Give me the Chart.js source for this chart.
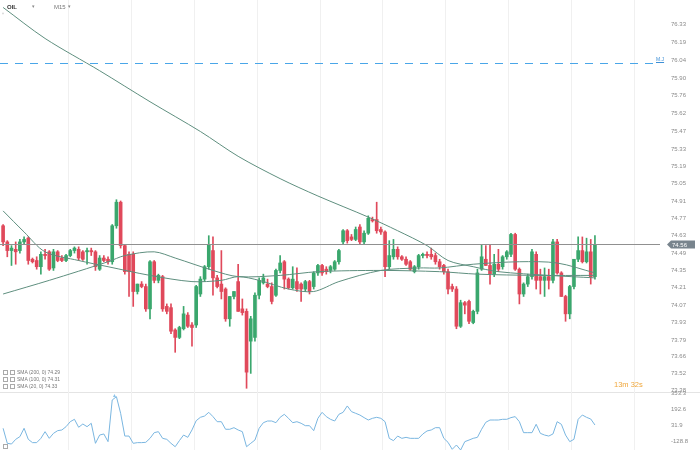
<!DOCTYPE html>
<html>
<head>
<meta charset="utf-8">
<script src="https://cdn.jsdelivr.net/npm/chart.js@4.4.0/dist/chart.umd.min.js"></script>
<style>
  html, body { margin: 0; padding: 0; background: #fff; }
  body { width: 700px; height: 450px; position: relative; overflow: hidden; font-family: "Liberation Sans", Arial, sans-serif; }
  #priceChart { position: absolute; left: 0; top: 0; }
  #cciChart { position: absolute; left: 0; top: 380px; }
  .t { position: absolute; white-space: nowrap; line-height: 1; }
  .sep { position: absolute; left: 0; top: 392px; width: 700px; height: 1px; background: #e4e4e4; }
  .ico { display: inline-block; width: 3px; height: 3px; border: 1px solid #aaa; margin-right: 2px; vertical-align: middle; }
</style>
</head>
<body>
<canvas id="priceChart" width="700" height="400"></canvas>
<div class="sep"></div>
<canvas id="cciChart" width="700" height="70"></canvas>

<div class="t" style="left:7px;top:4px;font-size:6px;font-weight:bold;color:#333;">OIL</div>
<div class="t" style="left:32px;top:4px;font-size:5px;color:#888;">▾</div>
<div class="t" style="left:54px;top:4px;font-size:6px;color:#777;">M15</div>
<div class="t" style="left:68px;top:4px;font-size:5px;color:#888;">▾</div>
<div class="t" style="left:2px;top:9px;font-size:5px;color:#999;">‸</div>

<div class="t" style="left:656px;top:57px;font-size:5px;color:#3d8fd6;text-decoration:underline;">M.J</div>

<div class="t" style="left:3px;top:370px;font-size:5px;color:#777;"><span class="ico"></span><span class="ico"></span>SMA (200, 0) 74.29</div>
<div class="t" style="left:3px;top:377px;font-size:5px;color:#777;"><span class="ico"></span><span class="ico"></span>SMA (100, 0) 74.31</div>
<div class="t" style="left:3px;top:384px;font-size:5px;color:#777;"><span class="ico"></span><span class="ico"></span>SMA (20, 0) 74.33</div>
<div class="t" style="left:112px;top:393px;font-size:5px;color:#8cc3ea;">▲</div>
<div class="t" style="left:614px;top:381px;font-size:7.5px;color:#f0a63a;">13m 32s</div>
<div class="t" style="left:3px;top:444px;font-size:5px;color:#999;"><span class="ico"></span></div>

<script>
// OIL M15 candles
const opens = [
  74.71, 74.58, 74.51, 74.52, 74.51, 74.58, 74.61, 74.44, 74.43, 74.38,
  74.48, 74.50, 74.37, 74.50, 74.45, 74.43, 74.47, 74.51, 74.52, 74.50,
  74.50, 74.51, 74.50, 74.36, 74.45, 74.44, 74.42, 74.71, 74.90, 74.55,
  74.48, 74.48, 74.18, 74.24, 74.22, 74.04, 74.42, 74.27, 74.30, 74.06,
  74.05, 73.87, 73.81, 73.88, 73.99, 73.91, 73.91, 74.16, 74.28, 74.38,
  74.51, 74.29, 74.24, 74.20, 73.96, 74.14, 74.26, 74.04, 74.02, 73.78,
  73.81, 74.15, 74.25, 74.24, 74.22, 74.15, 74.35, 74.42, 74.28, 74.21,
  74.26, 74.24, 74.20, 74.26, 74.22, 74.33, 74.39, 74.36, 74.35, 74.36,
  74.42, 74.58, 74.67, 74.62, 74.60, 74.70, 74.58, 74.65, 74.76, 74.76,
  74.68, 74.66, 74.38, 74.46, 74.52, 74.46, 74.44, 74.42, 74.34, 74.38,
  74.47, 74.48, 74.48, 74.47, 74.42, 74.39, 74.34, 74.22, 74.20, 73.90,
  74.09, 74.10, 73.93, 74.02, 74.36, 74.44, 74.39, 74.32, 74.40, 74.38,
  74.46, 74.48, 74.64, 74.36, 74.16, 74.24, 74.30, 74.48, 74.30, 74.27,
  74.30, 74.27, 74.58, 74.33, 74.14, 74.00, 74.22, 74.44, 74.51, 74.42,
  74.50, 74.30
];
const highs = [
  74.72, 74.59, 74.55, 74.58, 74.60, 74.62, 74.62, 74.45, 74.46, 74.50,
  74.52, 74.51, 74.52, 74.51, 74.47, 74.48, 74.52, 74.54, 74.54, 74.51,
  74.53, 74.53, 74.51, 74.47, 74.47, 74.46, 74.72, 74.92, 74.91, 74.56,
  74.50, 74.50, 74.24, 74.26, 74.24, 74.43, 74.43, 74.32, 74.31, 74.08,
  74.08, 73.88, 73.90, 74.06, 74.01, 73.93, 74.23, 74.30, 74.39, 74.63,
  74.62, 74.31, 74.51, 74.21, 74.14, 74.18, 74.40, 74.12, 74.04, 73.98,
  74.17, 74.29, 74.32, 74.28, 74.25, 74.36, 74.47, 74.43, 74.29, 74.38,
  74.37, 74.25, 74.27, 74.27, 74.34, 74.40, 74.40, 74.38, 74.39, 74.43,
  74.52, 74.68, 74.68, 74.64, 74.70, 74.72, 74.67, 74.79, 74.78, 74.90,
  74.70, 74.67, 74.59, 74.60, 74.54, 74.47, 74.46, 74.43, 74.39, 74.48,
  74.49, 74.50, 74.53, 74.49, 74.44, 74.40, 74.36, 74.24, 74.22, 74.11,
  74.10, 74.11, 74.03, 74.36, 74.56, 74.55, 74.56, 74.48, 74.52, 74.47,
  74.51, 74.65, 74.65, 74.37, 74.25, 74.32, 74.52, 74.50, 74.36, 74.37,
  74.36, 74.60, 74.60, 74.34, 74.15, 74.23, 74.44, 74.62, 74.62, 74.61,
  74.60, 74.63
];
const lows = [
  74.55, 74.46, 74.39, 74.40, 74.49, 74.56, 74.40, 74.41, 74.36, 74.32,
  74.44, 74.35, 74.35, 74.42, 74.42, 74.42, 74.46, 74.49, 74.43, 74.43,
  74.40, 74.47, 74.35, 74.35, 74.42, 74.40, 74.40, 74.69, 74.53, 74.32,
  74.14, 74.06, 74.16, 74.21, 74.02, 73.96, 74.25, 74.25, 74.02, 74.00,
  73.84, 73.69, 73.80, 73.87, 73.89, 73.74, 73.89, 74.14, 74.26, 74.36,
  74.15, 74.21, 74.12, 73.94, 73.90, 74.12, 74.02, 73.99, 73.40, 73.52,
  73.78, 74.12, 74.24, 74.21, 74.08, 74.14, 74.33, 74.20, 74.20, 74.20,
  74.18, 74.10, 74.18, 74.16, 74.20, 74.31, 74.31, 74.32, 74.33, 74.35,
  74.40, 74.56, 74.57, 74.59, 74.59, 74.56, 74.56, 74.64, 74.74, 74.65,
  74.64, 74.30, 74.36, 74.44, 74.44, 74.43, 74.39, 74.35, 74.33, 74.36,
  74.45, 74.45, 74.44, 74.40, 74.36, 74.32, 74.16, 74.18, 73.88, 73.89,
  74.00, 73.92, 73.92, 74.00, 74.35, 74.39, 74.24, 74.30, 74.34, 74.36,
  74.44, 74.46, 74.35, 74.08, 74.14, 74.22, 74.28, 74.20, 74.16, 74.14,
  74.20, 74.25, 74.32, 74.14, 73.94, 73.96, 74.20, 74.42, 74.41, 74.41,
  74.24, 74.28
];
const closes = [
  74.58, 74.51, 74.53, 74.50, 74.58, 74.60, 74.43, 74.42, 74.38, 74.48,
  74.47, 74.36, 74.50, 74.43, 74.43, 74.47, 74.51, 74.53, 74.45, 74.44,
  74.51, 74.50, 74.38, 74.45, 74.43, 74.42, 74.71, 74.90, 74.55, 74.34,
  74.34, 74.18, 74.24, 74.22, 74.04, 74.42, 74.27, 74.31, 74.04, 74.02,
  73.86, 73.81, 73.89, 74.00, 73.90, 73.89, 74.22, 74.28, 74.38, 74.56,
  74.29, 74.22, 74.18, 73.96, 74.14, 74.18, 74.02, 74.01, 73.53, 73.96,
  74.15, 74.27, 74.29, 74.22, 74.10, 74.35, 74.41, 74.28, 74.21, 74.28,
  74.20, 74.20, 74.26, 74.18, 74.33, 74.39, 74.33, 74.34, 74.38, 74.42,
  74.51, 74.67, 74.59, 74.60, 74.68, 74.58, 74.65, 74.77, 74.75, 74.67,
  74.66, 74.38, 74.47, 74.52, 74.46, 74.44, 74.40, 74.36, 74.38, 74.47,
  74.48, 74.47, 74.46, 74.42, 74.38, 74.34, 74.20, 74.20, 73.90, 74.09,
  74.07, 73.94, 74.02, 74.33, 74.46, 74.39, 74.32, 74.40, 74.36, 74.46,
  74.50, 74.64, 74.36, 74.16, 74.24, 74.30, 74.50, 74.27, 74.27, 74.30,
  74.27, 74.58, 74.33, 74.14, 74.00, 74.22, 74.44, 74.51, 74.42, 74.50,
  74.30, 74.56
];

// moving averages, read at a few candles: [candle index, value]
const sma200Pts = [[0, 76.47], [10, 76.22], [23, 75.96], [35, 75.71], [47, 75.47], [56, 75.27], [66, 75.09],
  [75, 74.95], [87, 74.78], [94, 74.67], [101, 74.55], [106, 74.43], [112, 74.38], [118, 74.34], [130, 74.31], [141, 74.29]];
const sma100Pts = [[0, 74.16], [11, 74.27], [25, 74.42], [29, 74.47], [36, 74.50], [41, 74.45], [50, 74.35], [56, 74.30],
  [66, 74.31], [75, 74.34], [90, 74.35], [104, 74.34], [113, 74.32], [127, 74.31], [141, 74.31]];
const sma20Pts = [[0, 74.83], [5, 74.66], [10, 74.50], [18, 74.43], [25, 74.38], [35, 74.31], [45, 74.26], [52, 74.27],
  [56, 74.30], [61, 74.27], [68, 74.20], [74, 74.18], [80, 74.26], [90, 74.35], [99, 74.37], [104, 74.37], [112, 74.40],
  [123, 74.42], [132, 74.41], [141, 74.33]];

// lower panel oscillator
const cci = [
  2, -149, -156, -109, -82, 2, -109, -142, -142, -99,
  -32, -99, -49, -22, -15, 18, 68, 92, 12, 45,
  18, 52, -149, -66, -55, -132, 286, 319, 152, -76,
  -76, -149, -142, -142, -139, -99, -42, -32, -99, -109,
  -149, -183, -122, -66, -89, -15, 78, 112, 125, 162,
  119, 68, 68, -8, -8, 8, -15, -32, -183, -149,
  -116, 2, 58, 75, 75, 58, 112, 142, 102, 58,
  68, 52, 28, 28, -22, 102, 162, 119, 92, 75,
  142, 162, 226, 169, 152, 135, 109, 85, 102, 112,
  102, 68, -99, -122, -76, -99, -89, -99, -99, -99,
  -55, -25, -15, 8, 8, -99, -139, -209, -166, -216,
  -132, -116, -99, -89, -8, 62, 85, 85, 85, 92,
  92, 109, 119, 68, -42, -42, -42, 42, -49, -66,
  -76, -55, 68, 42, -66, -132, -109, 92, 135, 112,
  95, 35
];

const priceTicks = [76.33, 76.19, 76.04, 75.90, 75.76, 75.62, 75.47, 75.33, 75.19, 75.05, 74.91,
  74.77, 74.63, 74.49, 74.35, 74.21, 74.07, 73.93, 73.79, 73.66, 73.52, 73.38];
const cciTicks = [353.3, 192.6, 31.9, -128.8];
const lastPrice = 74.56;
const levelPrice = 76.02;

const SLOTS = 157; // candles plus empty room on the right
const UP = '#3aa76d';
const DOWN = '#e0495b';
const SMA_COLOR = '#5f8f7f';

const labels = Array.from({ length: SLOTS }, (_, i) => String(i));
const candleColors = opens.map((o, i) => (closes[i] >= o ? UP : DOWN));
const bodies = opens.map((o, i) => [Math.min(o, closes[i]), Math.max(o, closes[i])]);
const wicks = lows.map((l, i) => [l, highs[i]]);

function spread(points) {
  const arr = new Array(SLOTS).fill(null);
  points.forEach(([i, v]) => { arr[i] = v; });
  return arr;
}

const xGrid = {
  type: 'category',
  offset: true,
  grid: { offset: true, drawTicks: false, color: (c) => (c.index > 1 && c.index % 15 === 1 ? '#f0f0f0' : 'rgba(0,0,0,0)') },
  ticks: { display: false },
  border: { display: false },
  afterFit: (s) => { s.height = 0; }
};

function rightAxis(min, max, tickValues, digits) {
  return {
    position: 'right',
    min: min,
    max: max,
    grid: { display: false, drawTicks: false },
    border: { display: false },
    ticks: {
      color: '#8a8a8a',
      font: { size: 6, family: '"Liberation Sans", Arial, sans-serif' },
      padding: 11,
      callback: (v) => Number(v).toFixed(digits)
    },
    afterBuildTicks: (s) => { s.ticks = tickValues.map((v) => ({ value: v })); },
    afterFit: (s) => { s.width = 40; s.paddingTop = 0; s.paddingBottom = 0; }
  };
}

const priceLines = {
  id: 'priceLines',
  afterDatasetsDraw(chart) {
    const { ctx, chartArea, scales } = chart;
    const y = scales.y;
    ctx.save();
    const yl = Math.round(y.getPixelForValue(levelPrice)) + 0.5;
    ctx.strokeStyle = '#4aa6e8';
    ctx.lineWidth = 1;
    ctx.setLineDash([8, 7]);
    ctx.beginPath();
    ctx.moveTo(0, yl);
    ctx.lineTo(chartArea.right, yl);
    ctx.stroke();

    const yp = Math.round(y.getPixelForValue(lastPrice)) + 0.5;
    ctx.setLineDash([]);
    ctx.strokeStyle = '#909090';
    ctx.beginPath();
    ctx.moveTo(0, yp);
    ctx.lineTo(chartArea.right, yp);
    ctx.stroke();

    const bx = chartArea.right + 7;
    ctx.fillStyle = '#78848d';
    ctx.beginPath();
    ctx.moveTo(bx, yp);
    ctx.lineTo(bx + 4, yp - 4);
    ctx.lineTo(bx + 28, yp - 4);
    ctx.lineTo(bx + 28, yp + 4);
    ctx.lineTo(bx + 4, yp + 4);
    ctx.closePath();
    ctx.fill();
    ctx.fillStyle = '#ffffff';
    ctx.font = '6px "Liberation Sans", Arial, sans-serif';
    ctx.textBaseline = 'middle';
    ctx.fillText(lastPrice.toFixed(2), bx + 5, yp + 0.5);
    ctx.restore();
  }
};

new Chart(document.getElementById('priceChart'), {
  type: 'bar',
  data: {
    labels: labels,
    datasets: [
      { type: 'line', label: 'SMA 200', data: spread(sma200Pts), borderColor: SMA_COLOR, borderWidth: 1, pointRadius: 0, spanGaps: true, tension: 0.3, order: 0 },
      { type: 'line', label: 'SMA 100', data: spread(sma100Pts), borderColor: SMA_COLOR, borderWidth: 1, pointRadius: 0, spanGaps: true, tension: 0.3, order: 0 },
      { type: 'line', label: 'SMA 20', data: spread(sma20Pts), borderColor: SMA_COLOR, borderWidth: 1, pointRadius: 0, spanGaps: true, tension: 0.3, order: 0 },
      { label: 'bodies', data: bodies, backgroundColor: candleColors, barThickness: 3, minBarLength: 1, grouped: false, order: 1 },
      { label: 'wicks', data: wicks, backgroundColor: candleColors, barThickness: 1, grouped: false, order: 2 }
    ]
  },
  options: {
    responsive: false,
    animation: false,
    layout: { padding: { left: 1, right: 0, top: 0, bottom: 8 } },
    plugins: { legend: { display: false }, tooltip: { enabled: false } },
    scales: {
      x: xGrid,
      y: rightAxis(73.37, 76.53, priceTicks, 2)
    }
  },
  plugins: [priceLines]
});

new Chart(document.getElementById('cciChart'), {
  type: 'line',
  data: {
    labels: labels,
    datasets: [
      { label: 'CCI', data: cci, borderColor: '#7ab6e0', borderWidth: 1, pointRadius: 0, tension: 0 }
    ]
  },
  options: {
    responsive: false,
    animation: false,
    layout: { padding: { left: 1, right: 0, top: 12, bottom: 0 } },
    plugins: { legend: { display: false }, tooltip: { enabled: false } },
    scales: {
      x: xGrid,
      y: rightAxis(-216, 366, cciTicks, 1)
    }
  }
});
</script>
</body>
</html>
